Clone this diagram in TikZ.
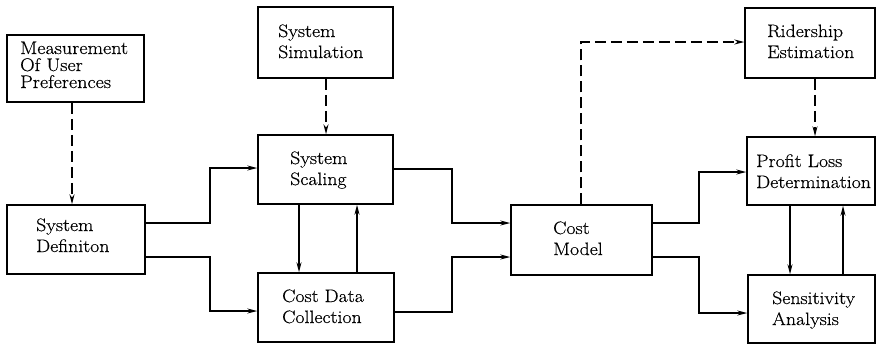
\documentclass[tikz,border=0pt]{standalone}
\usepackage{fontspec}
\setmainfont{Latin Modern Roman}[FakeStretch=1.1, FakeBold=0.4]
\usetikzlibrary{arrows.meta}
\begin{document}
\begin{tikzpicture}[x=1pt,y=-1pt,
  box/.style={draw, line width=1.5pt, rectangle, inner sep=0pt},
  txt/.style={anchor=base west, inner sep=0pt, align=left, font=\fontsize{18}{21}\selectfont},
  arr/.style={line width=1.3pt, -{Stealth[length=10pt,width=5pt]}},
  darr/.style={arr, dash pattern=on 11pt off 5pt}]
\useasboundingbox (0,0) rectangle (877,346);

% boxes: (left,top) to (right,bottom)
\newcommand\blk[5]{\node[box, minimum width=#4-#2, minimum height=#5-#3] (#1) at ({(#2+#4)/2},{(#3+#5)/2}) {};}
\blk{meas}{7}{35}{144}{102}
\blk{sysdef}{7}{205}{145}{274}
\blk{sim}{258}{7}{393}{78}
\blk{scal}{258}{135}{393}{204}
\blk{cdc}{258}{273}{394}{342}
\blk{cost}{511}{205}{652}{275}
\blk{rider}{745}{8}{875}{78}
\blk{profit}{747}{137}{875}{205}
\blk{sens}{748}{275}{875}{343}

% labels (anchored at the baseline of the last line)
\node[txt, font=\fontsize{18.3}{17}\selectfont] (tmeas) at (20,88) {Measurement\\Of User\\Preferences};
\node[txt] (tsysdef) at (36,252) {System\\Definiton};
\node[txt] (tsim) at (278,58) {System\\Simulation};
\node[txt] (tscal) at (290,185) {System\\Scaling};
\node[txt] (tcdc) at (282,323) {Cost Data\\Collection};
\node[txt] (tcost) at (553,255) {Cost\\Model};
\node[txt] (trider) at (767,58) {Ridership\\Estimation};
\node[txt] (tprofit) at (756,188) {Profit Loss\\Determination};
\node[txt] (tsens) at (772,325) {Sensitivity\\Analysis};

% dashed information links
\draw[darr] (meas.south -| 72,0) -- (sysdef.north -| 72,0);
\draw[darr] (sim.south -| 326,0) -- (scal.north -| 326,0);
\draw[darr] (cost.north -| 581,0) -- (581,42) -- (rider.west |- 0,42);
\draw[darr] (rider.south -| 815,0) -- (profit.north -| 815,0);

% solid flows
\draw[arr] (sysdef.east |- 0,223) -- (210,223) |- (scal.west |- 0,168);
\draw[arr] (sysdef.east |- 0,257) -- (210,257) |- (cdc.west |- 0,311);
\draw[arr] (scal.south -| 299,0) -- (cdc.north -| 299,0);
\draw[arr] (cdc.north -| 357,0) -- (scal.south -| 357,0);
\draw[arr] (scal.east |- 0,169) -- (452,169) |- (cost.west |- 0,223);
\draw[arr] (cdc.east |- 0,312) -- (452,312) |- (cost.west |- 0,257);
\draw[arr] (cost.east |- 0,223) -- (699,223) |- (profit.west |- 0,172);
\draw[arr] (cost.east |- 0,257) -- (699,257) |- (sens.west |- 0,313);
\draw[arr] (profit.south -| 790,0) -- (sens.north -| 790,0);
\draw[arr] (sens.north -| 843,0) -- (profit.south -| 843,0);
\end{tikzpicture}
\end{document}
